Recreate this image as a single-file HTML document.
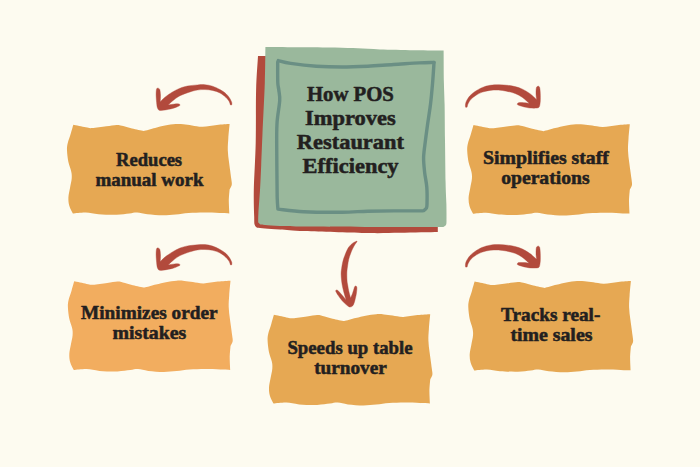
<!DOCTYPE html>
<html lang="en">
<head>
<meta charset="utf-8">
<title>How POS Improves Restaurant Efficiency</title>
<style>
html,body{margin:0;padding:0;background:#FDFBF0;}
body{width:700px;height:467px;overflow:hidden;}
svg{display:block;}
svg text{font-family:"Liberation Serif",serif;font-weight:bold;fill:#231F20;text-anchor:middle;stroke:#231F20;stroke-width:0.5px;stroke-linejoin:round;}
</style>
</head>
<body>
<svg width="700" height="467" viewBox="0 0 700 467">
<defs>
<path id="card" d="M73.3 124.7C75.4 125.1 82.6 126.7 85.7 127.3C88.8 127.9 88.7 128.3 92.1 128.1C95.5 127.9 102.2 126.8 106.3 126.3C110.4 125.8 114.0 125.1 116.6 125.0C119.2 124.9 119.4 125.2 122.0 125.8C124.6 126.4 128.4 127.7 132.0 128.6C135.6 129.5 141.7 130.6 143.6 131.0C145.5 130.5 151.5 128.8 155.1 127.9C158.7 127.0 161.6 126.2 165.0 125.6C168.4 125.0 172.6 124.3 175.7 124.1C178.8 123.9 180.7 124.1 183.4 124.3C186.1 124.5 188.8 125.0 192.0 125.4C195.2 125.8 198.5 126.9 202.7 126.8C206.8 126.7 212.4 125.5 216.9 125.0C221.4 124.5 227.5 124.2 229.6 124.1C229.4 126.5 228.6 134.2 228.3 138.6C228.0 143.0 227.7 146.4 227.8 150.3C227.9 154.2 228.5 158.2 229.0 162.1C229.5 166.0 230.2 170.6 230.6 173.9C231.0 177.2 231.5 180.1 231.7 182.0C231.9 183.9 231.9 184.2 231.6 185.5C231.2 186.8 229.9 188.9 229.6 189.6C229.5 191.3 228.9 195.8 228.8 199.8C228.8 203.8 229.2 211.1 229.3 213.4C227.7 213.3 223.6 213.2 219.4 213.0C215.2 212.8 209.1 212.5 204.0 212.5C198.9 212.5 193.3 212.7 188.6 213.0C183.9 213.3 180.0 214.1 175.7 214.5C171.4 214.9 167.6 215.3 162.9 215.3C158.2 215.3 151.7 214.8 147.4 214.3C143.1 213.8 140.1 212.6 137.1 212.5C134.1 212.4 132.8 213.1 129.4 213.5C126.0 213.9 121.7 214.7 116.6 214.8C111.5 214.9 103.8 214.7 98.6 214.3C93.4 213.9 90.0 212.6 85.7 212.5C81.4 212.4 75.0 213.3 72.9 213.5C72.3 212.2 70.0 208.4 69.3 205.7C68.5 203.0 68.3 200.3 68.4 197.4C68.5 194.5 69.5 191.1 70.0 188.0C70.5 184.9 71.5 181.3 71.7 178.6C71.9 175.8 71.8 174.2 71.2 171.5C70.7 168.8 69.1 165.6 68.4 162.1C67.7 158.6 67.1 153.4 67.0 150.3C66.9 147.2 67.1 146.1 67.7 143.3C68.3 140.6 69.8 136.9 70.7 133.8C71.6 130.7 72.9 126.2 73.3 124.7Z"/>
<path id="arrL" d="M157.5 87.9C157.9 88.2 159.2 88.2 159.7 89.4C160.2 90.6 160.4 93.0 160.5 95.0C160.6 97.0 160.3 100.6 160.3 101.7C161.1 101.0 163.0 98.8 165.0 97.2C167.0 95.6 170.0 93.5 172.5 92.0C175.0 90.5 177.5 89.2 180.0 88.2C182.5 87.2 184.6 86.5 187.5 86.0C190.4 85.5 194.6 85.1 197.5 84.9C200.4 84.7 202.5 84.5 205.0 84.7C207.5 84.9 210.0 85.4 212.5 86.2C215.0 87.0 217.8 88.3 220.0 89.6C222.2 90.8 224.4 92.3 226.0 93.7C227.6 95.1 228.7 96.7 229.7 98.2C230.7 99.7 231.5 101.6 231.8 102.7C232.1 103.8 231.6 104.6 231.6 105.0C231.4 105.0 230.7 105.0 230.5 105.0C230.2 104.4 229.8 102.5 229.0 101.2C228.2 100.0 227.5 98.9 226.0 97.5C224.5 96.1 222.2 94.2 220.0 93.0C217.8 91.8 215.0 91.0 212.5 90.4C210.0 89.8 207.5 89.7 205.0 89.6C202.5 89.5 200.0 89.6 197.5 90.0C195.0 90.4 192.9 91.0 190.0 91.9C187.1 92.9 182.9 94.2 180.0 95.7C177.1 97.2 174.5 99.4 172.5 101.0C170.5 102.6 168.8 104.4 168.0 105.1C169.1 104.9 172.9 104.2 174.7 104.0C176.5 103.8 178.0 103.8 178.9 104.0C179.8 104.2 180.1 104.7 180.0 105.1C179.9 105.5 179.8 105.6 178.5 106.2C177.2 106.8 174.8 107.9 172.5 108.5C170.2 109.1 167.1 109.7 165.0 110.0C162.9 110.3 160.9 110.7 159.7 110.4C158.4 110.1 158.0 109.4 157.5 108.1C157.0 106.8 156.8 104.7 156.6 102.5C156.4 100.3 156.1 97.1 156.1 95.0C156.1 92.9 156.2 90.9 156.4 89.7C156.6 88.5 157.3 88.2 157.5 87.9Z"/>
<path id="arrR" d="M538.2 86.1C537.9 86.4 536.8 86.4 536.4 87.7C536.0 89.0 536.0 91.8 536.0 93.7C536.0 95.7 536.5 98.5 536.6 99.4C535.5 98.5 532.4 95.4 530.0 93.7C527.6 92.0 525.0 90.4 522.5 89.2C520.0 88.0 517.5 87.2 515.0 86.6C512.5 85.9 510.2 85.6 507.5 85.3C504.8 85.0 501.9 84.7 499.0 84.7C496.1 84.7 492.8 84.8 490.0 85.3C487.2 85.8 485.0 86.4 482.5 87.4C480.0 88.4 477.1 90.1 475.0 91.5C472.9 92.9 471.1 94.4 469.7 96.0C468.3 97.6 467.1 99.7 466.4 101.2C465.7 102.7 465.5 104.0 465.4 105.0C465.3 106.0 465.6 106.8 465.6 107.2C465.9 107.2 466.9 107.2 467.1 107.2C467.3 106.6 467.5 104.9 468.2 103.5C468.9 102.1 469.8 100.4 471.2 99.0C472.6 97.6 474.6 96.1 476.5 94.9C478.4 93.8 480.2 92.8 482.5 92.1C484.8 91.3 487.3 90.7 490.0 90.4C492.7 90.1 495.8 90.0 498.5 90.1C501.2 90.2 503.8 90.7 506.5 91.2C509.2 91.8 512.3 92.4 515.0 93.4C517.7 94.5 520.1 95.8 522.5 97.5C524.9 99.2 528.1 102.3 529.2 103.3C528.3 103.2 525.8 102.8 524.0 102.7C522.2 102.6 519.8 102.5 518.7 102.7C517.6 102.9 517.5 103.5 517.4 103.9C517.3 104.3 517.1 104.6 518.0 105.0C518.9 105.4 520.5 106.0 522.5 106.5C524.5 107.0 527.6 107.8 530.0 108.0C532.4 108.2 535.5 108.2 537.1 108.0C538.7 107.8 538.9 107.6 539.4 106.5C539.9 105.4 540.1 103.3 540.3 101.2C540.4 99.1 540.4 96.0 540.3 93.7C540.2 91.5 540.1 89.0 539.7 87.7C539.4 86.4 538.5 86.4 538.2 86.1Z"/>
</defs>
<rect width="700" height="467" fill="#FDFBF0"/>
<!-- centre title card -->
<path d="M437.8 232.0C437.8 202.7 437.8 85.3 437.8 56.0C407.8 56.0 288.0 56.0 258.0 56.0C257.7 61.7 256.5 75.5 256.1 90.0C255.7 104.5 256.1 126.3 255.7 143.0C255.3 159.7 254.1 177.7 253.8 190.0C253.6 202.3 254.0 211.2 254.2 217.0C254.3 222.8 254.2 223.0 254.7 224.8C255.2 226.6 256.6 227.2 257.0 227.7C258.3 227.8 261.2 228.1 265.0 228.4C268.8 228.7 273.3 229.0 280.0 229.4C286.7 229.8 290.8 230.4 305.0 231.0C319.2 231.6 349.2 232.7 365.0 233.0C380.8 233.3 387.9 233.0 400.0 232.8C412.1 232.6 431.5 232.1 437.8 232.0Z" fill="#B24A3C"/>
<path d="M265.4 47.0C277.0 47.1 315.9 47.2 335.0 47.6C354.1 48.0 361.9 48.9 380.0 49.4C398.1 49.9 433.0 50.4 443.6 50.6C443.7 56.0 443.7 73.9 443.9 82.8C444.1 91.7 444.4 94.7 444.6 104.2C444.8 113.7 444.8 126.9 445.0 140.0C445.2 153.1 445.4 172.1 445.6 182.8C445.8 193.5 446.2 197.8 446.4 204.2C446.5 210.6 446.6 217.8 446.5 221.3C446.4 224.8 446.3 224.2 445.8 225.2C445.3 226.1 443.7 226.7 443.3 227.0C440.2 227.0 438.1 227.1 425.0 227.1C411.9 227.1 385.0 227.0 365.0 226.9C345.0 226.8 319.2 226.7 305.0 226.5C290.8 226.3 286.7 226.3 280.0 226.0C273.3 225.7 268.2 225.2 265.0 224.9C261.8 224.6 261.6 224.8 260.5 224.4C259.4 224.0 258.6 222.9 258.2 222.6C258.2 221.0 258.1 218.4 258.4 213.0C258.7 207.6 259.5 198.0 260.0 190.0C260.5 182.0 260.8 174.5 261.2 165.0C261.6 155.5 261.9 146.7 262.5 133.0C263.1 119.3 264.3 97.3 264.8 83.0C265.3 68.7 265.3 53.0 265.4 47.0Z" fill="#9AB89C"/>
<g fill="none" stroke="#6A8F84" stroke-width="3.4" stroke-linecap="round" stroke-linejoin="round">
<path d="M278.3 60.6C280.4 61.1 284.4 62.5 290.7 63.4C297.0 64.3 307.8 65.6 316.4 66.2C325.0 66.8 333.5 67.0 342.1 67.0C350.7 67.0 359.3 66.6 367.9 66.2C376.5 65.8 385.0 65.0 393.6 64.5C402.2 64.0 412.6 63.2 419.3 62.9C426.0 62.5 431.6 62.5 434.0 62.4"/>
<path d="M434.0 62.4C433.8 65.8 433.2 75.8 432.6 82.8C432.0 89.8 431.4 97.0 430.5 104.2C429.6 111.4 428.2 119.7 427.4 125.7C426.6 131.7 426.1 134.8 425.5 140.0C424.9 145.2 423.8 151.8 423.6 157.1C423.5 162.4 424.1 167.1 424.6 172.1C425.1 177.1 426.4 181.8 426.8 187.1C427.2 192.4 427.1 200.7 427.0 204.2C426.9 207.7 426.9 207.2 426.3 208.3C425.7 209.4 424.1 210.3 423.6 210.7C422.9 210.7 424.3 210.9 419.3 210.9C414.3 210.9 402.2 210.9 393.6 210.9C385.0 210.9 376.5 211.0 367.9 211.2C359.3 211.4 352.8 212.1 342.1 212.2C331.4 212.3 314.3 212.2 303.6 211.7C292.9 211.2 282.2 209.5 277.9 209.1C277.8 207.6 277.4 203.2 277.3 200.0C277.2 196.8 277.2 199.4 277.1 190.0C277.0 180.6 276.7 154.8 276.7 143.5C276.7 132.2 276.6 129.1 277.1 122.0C277.6 114.9 279.4 106.0 279.7 100.7C280.0 95.4 279.1 93.0 278.8 90.0C278.5 87.0 278.0 87.5 277.8 82.8C277.6 78.1 277.7 65.5 277.7 62.0"/>
</g>
<!-- cards -->
<use href="#card" fill="#E6A853"/>
<use href="#card" fill="#E6A853" transform="translate(400.2,0.2)"/>
<use href="#card" fill="#F2AD5F" transform="translate(0.9,156.6)"/>
<use href="#card" fill="#E6A853" transform="translate(200.6,190.1)"/>
<use href="#card" fill="#E6A853" transform="translate(401.3,156.9)"/>
<!-- arrows -->
<g fill="#B24A3C" stroke="#B24A3C" stroke-width="0.4" stroke-linejoin="round">
<use href="#arrL"/>
<use href="#arrL" transform="translate(0,159.9)"/>
<use href="#arrR"/>
<use href="#arrR" transform="translate(0,159.9)"/>
<path d="M357.0 241.1C356.4 241.4 354.5 241.9 353.1 242.9C351.7 243.9 350.1 245.2 348.8 247.1C347.5 248.9 346.4 251.6 345.4 254.0C344.4 256.4 343.4 259.3 342.8 261.7C342.2 264.1 341.9 266.4 341.6 268.5C341.3 270.6 341.1 272.1 341.1 274.0C341.1 275.9 341.3 278.1 341.5 280.0C341.7 281.9 341.9 283.3 342.2 285.1C342.5 286.9 343.0 289.0 343.5 290.9C344.0 292.8 344.7 295.2 345.1 296.7C345.5 298.2 345.9 299.4 346.1 299.9C345.4 299.0 343.0 296.1 341.6 294.5C340.2 292.9 338.4 291.0 337.7 290.3C337.5 290.2 336.9 289.9 336.6 289.9C336.3 289.9 335.9 290.1 335.8 290.4C335.7 290.6 335.8 291.2 335.8 291.4C336.2 292.1 337.2 294.0 338.3 295.6C339.4 297.2 340.9 299.3 342.2 300.8C343.5 302.3 344.9 303.6 346.1 304.6C347.3 305.6 348.4 306.6 349.3 306.9C350.2 307.2 351.1 306.9 351.8 306.5C352.5 306.1 353.1 305.5 353.6 304.4C354.1 303.3 354.6 301.6 355.0 299.9C355.4 298.2 356.0 295.9 356.3 294.1C356.6 292.3 356.8 290.2 356.9 289.0C356.9 287.8 356.9 287.1 356.6 286.6C356.4 286.1 355.8 285.9 355.4 286.0C355.0 286.1 354.6 286.8 354.5 287.0C354.4 287.2 354.4 287.2 354.1 288.3C353.8 289.4 353.1 291.9 352.5 293.5C351.9 295.1 350.9 297.2 350.6 298.0C350.3 296.9 349.4 293.8 348.9 291.6C348.4 289.5 348.0 287.0 347.7 285.1C347.4 283.2 347.1 282.2 347.0 280.0C346.9 277.8 346.8 274.3 346.9 272.0C347.0 269.7 347.3 268.1 347.6 266.0C347.9 263.9 348.2 261.5 348.8 259.1C349.4 256.7 350.5 253.7 351.4 251.4C352.3 249.1 353.5 247.0 354.4 245.4C355.3 243.8 356.6 242.4 357.0 241.8C357.0 241.7 357.0 241.2 357.0 241.1Z"/>
</g>
<!-- labels -->
<g>
<text x="350.4" y="100.9" font-size="20.0" textLength="87" lengthAdjust="spacingAndGlyphs">How POS</text>
<text x="350.4" y="125.2" font-size="20.0" textLength="90.7" lengthAdjust="spacingAndGlyphs">Improves</text>
<text x="350.4" y="149.2" font-size="20.0" textLength="107.2" lengthAdjust="spacingAndGlyphs">Restaurant</text>
<text x="350.6" y="172.8" font-size="20.0" textLength="96" lengthAdjust="spacingAndGlyphs">Efficiency</text>
<text x="149.1" y="165.7" font-size="17.8" textLength="66" lengthAdjust="spacingAndGlyphs">Reduces</text>
<text x="149.5" y="185.6" font-size="17.8" textLength="108.2" lengthAdjust="spacingAndGlyphs">manual work</text>
<text x="546" y="164.2" font-size="17.8" textLength="125.8" lengthAdjust="spacingAndGlyphs">Simplifies staff</text>
<text x="545.4" y="183.9" font-size="17.8" textLength="88.5" lengthAdjust="spacingAndGlyphs">operations</text>
<text x="149.3" y="318.6" font-size="17.8" textLength="136.5" lengthAdjust="spacingAndGlyphs">Minimizes order</text>
<text x="149.4" y="338.5" font-size="17.8" textLength="73.9" lengthAdjust="spacingAndGlyphs">mistakes</text>
<text x="350" y="353.6" font-size="17.8" textLength="125.2" lengthAdjust="spacingAndGlyphs">Speeds up table</text>
<text x="350.5" y="373.5" font-size="17.8" textLength="72.7" lengthAdjust="spacingAndGlyphs">turnover</text>
<text x="550.7" y="320.7" font-size="17.8" textLength="99.3" lengthAdjust="spacingAndGlyphs">Tracks real-</text>
<text x="551.4" y="340.6" font-size="17.8" textLength="82" lengthAdjust="spacingAndGlyphs">time sales</text>
</g>
</svg>
</body>
</html>
